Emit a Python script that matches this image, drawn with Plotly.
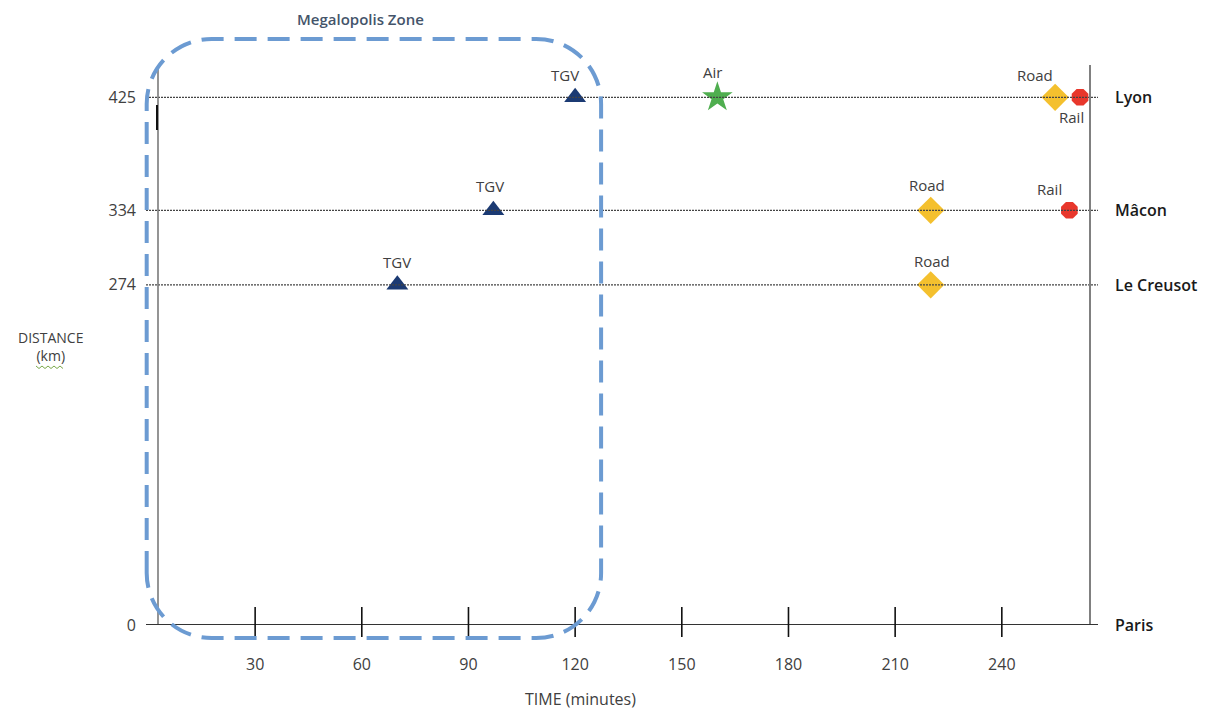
import plotly.graph_objects as go

# ---------------- data ----------------
cities = ["Paris", "Le Creusot", "Mâcon", "Lyon"]
city_km = [0, 274, 334, 425]

time_ticks = [30, 60, 90, 120, 150, 180, 210, 240]

tgv_min = [70, 97, 120]
tgv_km = [274, 334, 425]

air_min = [160]
air_km = [425]

road_min = [220, 220, 255]
road_km = [274, 334, 425]

rail_min = [259, 262]
rail_km = [334, 425]

# megalopolis zone extent (minutes, km)
zone_min = [-0.5, 127.3]
zone_km = [-10.5, 472]

# ---------------- layout constants ----------------
W, H = 1211, 712
OFF = 8  # default page body margin
PL, PR, PT, PB = 157, 1090, 65, 625  # target plot box on screen
PW, PH = PR - PL, PB - PT
ML, MT = PL - OFF, PT - OFF
MR, MB = W - ML - PW, H - MT - PH
XR = [2.4, 264.8]
YR = [0, 451]

def xp(t):
    return (t - XR[0]) / (XR[1] - XR[0])

def yp(d):
    return (d - YR[0]) / (YR[1] - YR[0])

def px2paper_x(px):
    return (px - PL) / PW

def py2paper_y(py):
    return (PB - py) / PH

FONT = "Open Sans"
TXT = "#404040"

fig = go.Figure()

shapes = []
# dotted guide lines for each destination
for d in city_km[1:]:
    shapes.append(dict(type="line", xref="paper", yref="y",
                       x0=px2paper_x(146), x1=px2paper_x(1098), y0=d, y1=d,
                       line=dict(color="#444444", width=1.3, dash="2px,1px")))
# left axis line
shapes.append(dict(type="line", xref="paper", yref="paper", x0=1 / PW, x1=1 / PW,
                   y0=0, y1=1.0, line=dict(color="#7a7a7a", width=1.6)))
# small dark mark near top of left axis
shapes.append(dict(type="line", xref="paper", yref="paper", x0=0, x1=0,
                   y0=py2paper_y(130), y1=py2paper_y(105),
                   line=dict(color="#111111", width=2)))
# right border
shapes.append(dict(type="line", xref="paper", yref="paper", x0=1, x1=1,
                   y0=0, y1=1.0, line=dict(color="#808080", width=2)))
# x axis line
shapes.append(dict(type="line", xref="paper", yref="y", x0=px2paper_x(146), x1=px2paper_x(1098),
                   y0=0, y1=0, line=dict(color="#333333", width=2)))
# crossing tick marks
for t in time_ticks:
    shapes.append(dict(type="line", xref="x", yref="paper", x0=t, x1=t,
                       y0=-12 / PH, y1=18 / PH, line=dict(color="#111111", width=1.6)))

# spell-check squiggle under "(km)"
sq_x = [36 + 3 * i for i in range(10)]
sq_path = "M " + " L ".join(
    f"{px2paper_x(x)},{py2paper_y(367 + (1.5 if i % 2 else -1.0))}" for i, x in enumerate(sq_x))
shapes.append(dict(type="path", xref="paper", yref="paper", path=sq_path,
                   line=dict(color="#7aa84a", width=1)))

# rounded dashed zone
L, R = xp(zone_min[0]), xp(zone_min[1])
B, T = yp(zone_km[0]), yp(zone_km[1])
rx, ry = 65 / PW, 65 / PH
k = 0.5523
path = (
    f"M {L},{B+ry} L {L},{T-ry} "
    f"C {L},{T-ry+k*ry} {L+rx-k*rx},{T} {L+rx},{T} "
    f"L {R-rx},{T} "
    f"C {R-rx+k*rx},{T} {R},{T-ry+k*ry} {R},{T-ry} "
    f"L {R},{B+ry} "
    f"C {R},{B+ry-k*ry} {R-rx+k*rx},{B} {R-rx},{B} "
    f"L {L+rx},{B} "
    f"C {L+rx-k*rx},{B} {L},{B+ry-k*ry} {L},{B+ry} Z"
)
shapes.append(dict(type="path", xref="paper", yref="paper", path=path,
                   line=dict(color="#6c9bd2", width=4, dash="22px,11px"),
                   fillcolor="rgba(0,0,0,0)"))

# ---------------- markers ----------------
fig.add_trace(go.Scatter(x=tgv_min, y=tgv_km, mode="markers", name="TGV",
                         marker=dict(symbol="triangle-up", size=19, color="#1b3a73"),
                         cliponaxis=False))
fig.add_trace(go.Scatter(x=air_min, y=air_km, mode="markers", name="Air",
                         marker=dict(symbol="star", size=23, color="#4fae4f"),
                         cliponaxis=False))
fig.add_trace(go.Scatter(x=road_min, y=road_km, mode="markers", name="Road",
                         marker=dict(symbol="diamond", size=21, color="#f4c02e"),
                         cliponaxis=False))
fig.add_trace(go.Scatter(x=rail_min, y=rail_km, mode="markers", name="Rail",
                         marker=dict(symbol="octagon", size=18, color="#e8372c"),
                         cliponaxis=False))

# ---------------- labels ----------------
annotations = []
label_sets = [
    ("TGV", tgv_min, tgv_km, [(0, 23), (-3, 24), (-10, 22)]),
    ("Air", air_min, air_km, [(-5, 25)]),
    ("Road", road_min, road_km, [(1, 24), (-4, 25), (-20, 22)]),
    ("Rail", rail_min, rail_km, [(-20, 21), (-9, -20)]),
]
for name, xs, ys, offs in label_sets:
    for x, y, (dx, dy) in zip(xs, ys, offs):
        annotations.append(dict(x=x, y=y, xref="x", yref="y", text=name,
                                showarrow=False, xshift=dx, yshift=dy,
                                xanchor="center", yanchor="middle",
                                font=dict(family=FONT, size=15, color=TXT)))

for c, d in zip(cities, city_km):
    annotations.append(dict(x=px2paper_x(1113), y=d, xref="paper", yref="y", text=c,
                            showarrow=False, xanchor="left", yanchor="middle",
                            font=dict(family=FONT, size=16, color="#1a1a1a", weight=600)))

annotations.append(dict(x=px2paper_x(360), y=py2paper_y(19), xref="paper", yref="paper",
                        text="Megalopolis Zone", showarrow=False,
                        xanchor="center", yanchor="middle",
                        font=dict(family=FONT, size=15, color="#44546a", weight=600)))
annotations.append(dict(x=px2paper_x(580), y=py2paper_y(699), xref="paper", yref="paper",
                        text="TIME (minutes)", showarrow=False,
                        xanchor="center", yanchor="middle",
                        font=dict(family=FONT, size=16, color=TXT)))
annotations.append(dict(x=px2paper_x(50), y=py2paper_y(346), xref="paper", yref="paper",
                        text="DISTANCE<br>(km)", showarrow=False,
                        xanchor="center", yanchor="middle",
                        font=dict(family=FONT, size=14, color=TXT)))

fig.update_layout(
    width=W, height=H,
    margin=dict(l=ML, r=MR, t=MT, b=MB, pad=0),
    paper_bgcolor="white", plot_bgcolor="white",
    showlegend=False,
    shapes=shapes,
    annotations=annotations,
    xaxis=dict(range=XR, tickvals=time_ticks, ticktext=[str(t) for t in time_ticks],
               showgrid=False, zeroline=False, showline=False, ticks="",
               ticklabelstandoff=28,
               tickfont=dict(family=FONT, size=16, color=TXT)),
    yaxis=dict(range=YR, tickvals=city_km, ticktext=[str(d) for d in city_km],
               showgrid=False, zeroline=False, showline=False, ticks="",
               ticklabelstandoff=20,
               tickfont=dict(family=FONT, size=16, color=TXT)),
)

fig.write_html("out.html")
